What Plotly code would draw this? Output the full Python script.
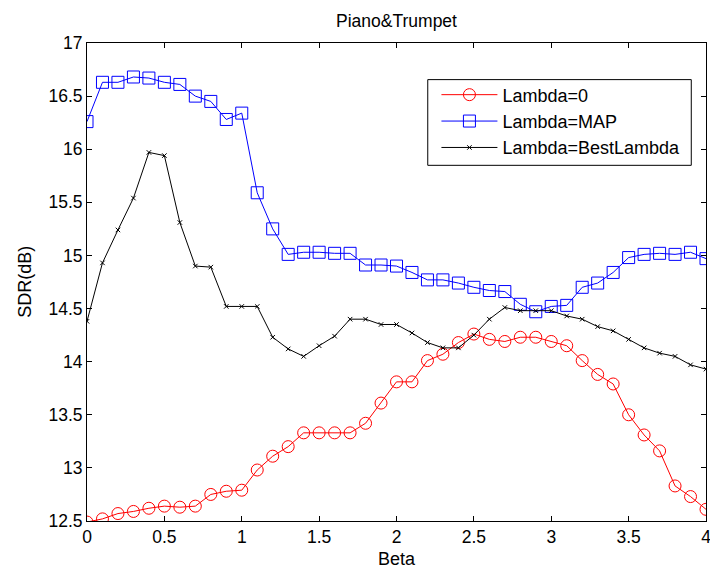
import plotly.graph_objects as go

beta = [round(i * 0.1, 1) for i in range(41)]

lambda0 = [12.49, 12.52, 12.57, 12.59, 12.62, 12.64, 12.63, 12.64, 12.75, 12.78,
           12.79, 12.98, 13.11, 13.20, 13.33, 13.33, 13.33, 13.33, 13.42, 13.61,
           13.81, 13.81, 14.01, 14.07, 14.18, 14.26, 14.21, 14.19, 14.23, 14.23,
           14.19, 14.15, 14.01, 13.88, 13.79, 13.50, 13.31, 13.16, 12.83, 12.73,
           12.61]

lambda_map = [16.26, 16.63, 16.63, 16.68, 16.67, 16.63, 16.61, 16.50, 16.45, 16.28,
              16.34, 15.59, 15.25, 15.01, 15.03, 15.03, 15.02, 15.02, 14.91, 14.91,
              14.90, 14.84, 14.77, 14.77, 14.74, 14.70, 14.67, 14.66, 14.54, 14.47,
              14.52, 14.53, 14.70, 14.74, 14.84, 14.98, 15.01, 15.02, 15.01, 15.03,
              14.97]

lambda_best = [14.38, 14.93, 15.24, 15.54, 15.97, 15.94, 15.31, 14.90, 14.89, 14.52,
               14.52, 14.52, 14.23, 14.12, 14.05, 14.15, 14.24, 14.40, 14.40, 14.35,
               14.35, 14.27, 14.18, 14.13, 14.13, 14.25, 14.40, 14.51, 14.48, 14.48,
               14.48, 14.43, 14.40, 14.33, 14.29, 14.21, 14.13, 14.08, 14.05, 13.97,
               13.93]

x_ticks = [0, 0.5, 1, 1.5, 2, 2.5, 3, 3.5, 4]
x_ticklabels = ["0", "0.5", "1", "1.5", "2", "2.5", "3", "3.5", "4"]
y_ticks = [12.5, 13, 13.5, 14, 14.5, 15, 15.5, 16, 16.5, 17]
y_ticklabels = ["12.5", "13", "13.5", "14", "14.5", "15", "15.5", "16", "16.5", "17"]

FONT = "Liberation Sans, Arial, sans-serif"

fig = go.Figure()
fig.add_trace(go.Scatter(
    x=beta, y=lambda0, mode="lines+markers", name="Lambda=0",
    line=dict(color="#FF0000", width=1),
    marker=dict(symbol="circle-open", size=12, color="#FF0000", line=dict(width=1, color="#FF0000")),
))
fig.add_trace(go.Scatter(
    x=beta, y=lambda_map, mode="lines+markers", name="Lambda=MAP",
    line=dict(color="#0000FF", width=1),
    marker=dict(symbol="square-open", size=12, color="#0000FF", line=dict(width=1, color="#0000FF")),
))
fig.add_trace(go.Scatter(
    x=beta, y=lambda_best, mode="lines+markers", name="Lambda=BestLambda",
    line=dict(color="#000000", width=1),
    marker=dict(symbol="x-thin", size=4.5, color="#000000", line=dict(width=1, color="#000000")),
))

axis_common = dict(
    showline=True, linecolor="black", linewidth=1, mirror="ticks",
    ticks="inside", ticklen=5, tickcolor="black", tickwidth=1,
    showgrid=False, zeroline=False, automargin=False,
    ticklabeloverflow="allow",
    tickfont=dict(family=FONT, size=17.5, color="black"),
)

fig.update_layout(
    width=710, height=568,
    margin=dict(l=87, r=4, t=43, b=47),
    paper_bgcolor="white", plot_bgcolor="white",
    font=dict(family=FONT, size=18, color="black"),
    title=dict(text="Piano&Trumpet", x=0.5, xanchor="center", xref="paper",
               y=1 - 21 / 568, yanchor="middle", yref="container",
               font=dict(family=FONT, size=17.5, color="black")),
    xaxis=dict(range=[0, 4], tickvals=x_ticks, ticktext=x_ticklabels, **axis_common),
    yaxis=dict(range=[12.5, 17], tickvals=y_ticks, ticktext=y_ticklabels, **axis_common),
    legend=dict(x=0.5645, y=0.9300, xanchor="left", yanchor="top",
                bgcolor="rgba(0,0,0,0)", borderwidth=0,
                font=dict(family=FONT, size=18, color="black"),
                itemwidth=56, tracegroupgap=0),
    showlegend=True,
    shapes=[dict(type="rect", xref="paper", yref="paper",
                 x0=0.5505, x1=0.9762, y0=0.7441, y1=0.9234,
                 line=dict(color="black", width=1), fillcolor="white", layer="below")],
    annotations=[
        dict(text="Beta", xref="paper", yref="paper", x=0.5, y=-0.0795,
             xanchor="center", yanchor="middle", showarrow=False,
             font=dict(family=FONT, size=18, color="black")),
        dict(text="SDR(dB)", xref="paper", yref="paper", x=-0.1007, y=0.5,
             xanchor="center", yanchor="middle", showarrow=False, textangle=-90,
             font=dict(family=FONT, size=18, color="black")),
    ],
)

fig.write_html("out.html", config={"displayModeBar": False},
               post_script="document.body.style.margin='0px';")
